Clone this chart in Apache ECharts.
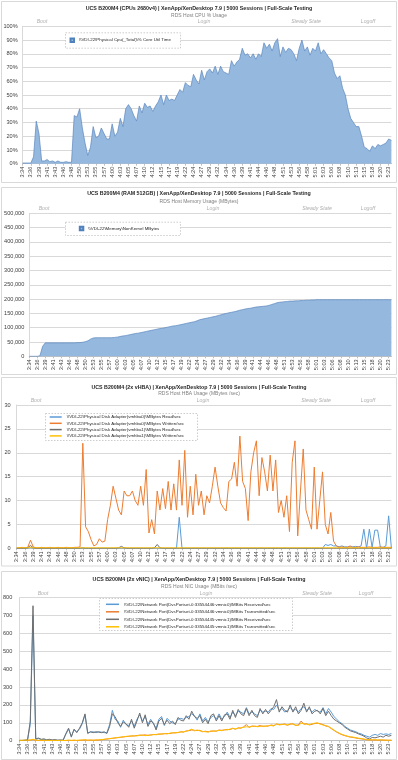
<!DOCTYPE html>
<html>
<head>
  <meta charset="utf-8">
  <script src="https://cdn.jsdelivr.net/npm/echarts@6/dist/echarts.min.js"></script>
  <title>UCS B200M4 RDS host metrics</title>
  <style>
    html, body { margin: 0; padding: 0; background: #fff; }
    #main { width: 398px; height: 760px; }
  </style>
</head>
<body>
<div id="main"></div>
<script>
  // tick labels on the time axis, one sample every third of a tick
  var tickLabels = ['3:34', '3:36', '3:39', '3:41', '3:43', '3:46', '3:48', '3:50', '3:53', '3:55',
    '3:57', '4:00', '4:03', '4:05', '4:07', '4:10', '4:12', '4:15', '4:17', '4:19',
    '4:22', '4:24', '4:27', '4:29', '4:32', '4:34', '4:36', '4:39', '4:41', '4:44',
    '4:46', '4:48', '4:51', '4:53', '4:56', '4:58', '5:01', '5:03', '5:06', '5:08',
    '5:10', '5:13', '5:15', '5:18', '5:20', '5:23'];
  var samplesPerTick = 3;
  var sampleCount = 137;
  var categories = [];
  tickLabels.forEach(function (t) {
    for (var k = 0; k < samplesPerTick; k++) categories.push(t);
  });
  categories = categories.slice(0, sampleCount);

  var phaseNames = ['Boot', 'Login', 'Steady State', 'Logoff'];

  // CPU % core util time
  var cpuUtil = [
    0.5, 0.5, 0.5, 0.5, 5, 31, 22, 2, 2, 3,
    1.5, 2, 1, 2, 1, 1, 1.5, 1, 1, 35,
    34, 40, 26, 15, 6, 12, 27, 19, 20, 26,
    22, 18, 18, 29, 20, 23, 33, 27, 40, 43,
    40, 35, 31, 42, 37, 44, 41, 42, 38, 42,
    45, 50, 43, 50, 46, 47, 46, 50, 54, 52,
    59, 57, 56, 65, 61, 58, 68, 61, 67, 69,
    66, 71, 65, 71, 67, 66, 65, 75, 71, 74,
    76, 84, 79, 80, 77, 80, 76, 80, 78, 88,
    84, 87, 82, 88, 91, 78, 85, 81, 84, 83,
    80, 75, 84, 90, 82, 85, 79, 84, 82, 88,
    80, 83, 80, 77, 75, 66, 62, 64, 55, 50,
    40, 33, 30, 27, 27, 20, 12, 11, 9, 13,
    11, 14, 13, 14, 15, 18, 17
  ];

  // NonKernel MBytes
  var memNonKernel = [
    0, 0, 0, 0, 2000, 35000, 47000, 47000, 47000, 47000,
    47000, 47000, 47000, 47000, 47000, 47000, 47000, 47000, 48000, 48000,
    49000, 51000, 54000, 60000, 64000, 65000, 65000, 65000, 65000, 65000,
    65000, 65000, 66000, 67000, 69000, 71000, 72000, 74000, 76000, 78000,
    80000, 81000, 83000, 85000, 87000, 89000, 91000, 93000, 95000, 97000,
    98000, 100000, 102000, 104000, 106000, 107000, 109000, 111000, 113000, 115000,
    117000, 119000, 121000, 124000, 128000, 130000, 132000, 134000, 136000, 138000,
    140000, 143000, 145000, 148000, 150000, 152000, 154000, 156000, 158000, 161000,
    163000, 165000, 167000, 168000, 170000, 172000, 173000, 174000, 175000, 176000,
    178000, 181000, 184000, 187000, 189000, 190000, 191000, 192000, 193000, 193000,
    194000, 194000, 195000, 195000, 196000, 196000, 197000, 197000, 198000, 198000,
    198000, 198000, 198000, 198000, 198000, 198000, 198000, 198000, 198000, 198000,
    198000, 198000, 198000, 198000, 198000, 198000, 198000, 198000, 198000, 198000,
    198000, 198000, 198000, 198000, 198000, 198000, 198000
  ];

  // HBA MBytes/sec
  var hba0Read = [
    0, 0, 0, 0, 0, 0.2, 0, 0, 0, 0,
    0, 0, 0, 0, 0, 0, 0, 0, 0, 0,
    0, 0, 0, 0, 0, 0, 0, 0, 0, 0,
    0, 0, 0, 0, 0, 0, 0, 0, 0, 0,
    0, 0, 0, 0, 0, 0, 0, 0, 0, 0,
    0, 0, 0, 0, 0, 0, 0, 0, 0, 6.5,
    0, 0, 0, 0, 0, 0, 0, 0, 0, 0,
    0, 0, 0, 0, 0, 0, 0, 0, 0, 0,
    0, 0, 0, 0, 0, 0, 0, 0, 0, 0,
    0, 0, 0, 0, 0, 0, 0, 0, 0, 0,
    0, 0, 0, 0, 0, 0, 0, 0, 0, 0,
    0, 0, 0.8, 0.6, 0.8, 0.5, 0.5, 0.3, 0.5, 0.3,
    0.3, 0.3, 0.3, 0.4, 0.3, 0.5, 4, 0, 4, 0.2,
    3.8, 3.8, 0.2, 0.2, 0.5, 6.8, 0
  ];
  var hba0Written = [
    0.1, 0.1, 0.2, 0.1, 0.2, 1.7, 0.3, 0.1, 0.1, 0.2,
    0.1, 0.1, 0.2, 0.1, 0.1, 0.2, 0.1, 0.1, 0.2, 0.1,
    0.1, 0.2, 0.2, 0.3, 22, 4.5, 3.5, 1.8, 0.5, 0.8,
    2, 1.3, 1.5, 6, 9, 13, 10.5, 8, 7, 12,
    11, 11, 12, 10, 9, 13, 9, 16.5, 3.2, 6,
    3, 12, 8, 12.5, 8.3, 14, 8, 13.5, 8, 18.5,
    9, 20.5, 6.5, 13, 7, 15.5, 9, 12, 7, 11,
    9.5, 13, 17, 13, 9.5, 8.5, 7.8, 14, 14.5, 18,
    13, 23.5, 14, 12.5, 5.8, 16, 20, 22.5, 11, 19,
    16, 12, 19.5, 12, 18.5, 7.5, 10, 6.5, 11, 3.5,
    18, 22.5, 2.6, 12, 20.8, 8, 6, 4, 17, 4,
    10, 16, 5, 3, 7.5, 1.5, 0.5, 0.2, 0.3, 0.2,
    0.2, 0.5, 0.2, 0.2, 0.3, 0.2, 0.2, 0.2, 0.3, 0.2,
    0.2, 0.2, 0.3, 0.2, 0.2, 0.2, 0.2
  ];
  var hba1Read = [
    0, 0, 0, 0, 0.1, 0.6, 0.1, 0, 0, 0,
    0, 0, 0, 0, 0, 0, 0, 0, 0, 0,
    0, 0, 0, 0, 0.1, 0, 0, 0, 0, 0,
    0, 0, 0, 0, 0, 0, 0, 0.1, 0.4, 0.1,
    0, 0, 0, 0, 0, 0, 0, 0, 0, 0,
    0.1, 0.8, 0.1, 0, 0, 0, 0, 0, 0, 0,
    0, 0, 0, 0, 0, 0, 0, 0, 0, 0,
    0, 0, 0, 0, 0, 0, 0, 0, 0, 0,
    0, 0, 0, 0, 0, 0, 0, 0, 0, 0,
    0, 0, 0, 0, 0, 0, 0, 0, 0, 0,
    0, 0, 0, 0, 0, 0, 0, 0, 0, 0,
    0, 0, 0, 0, 0, 0, 0, 0, 0, 0,
    0, 0, 0, 0, 0, 0, 0, 0, 0, 0,
    0, 0, 0, 0, 0, 0, 0
  ];
  var hba1Written = [
    0.1, 0.1, 0.1, 0.1, 0.1, 0.2, 0.1, 0.1, 0.1, 0.1,
    0.1, 0.1, 0.1, 0.1, 0.1, 0.1, 0.1, 0.1, 0.1, 0.1,
    0.1, 0.1, 0.1, 0.1, 0.1, 0.1, 0.1, 0.1, 0.1, 0.1,
    0.1, 0.1, 0.1, 0.1, 0.1, 0.1, 0.1, 0.1, 0.1, 0.1,
    0.1, 0.1, 0.1, 0.1, 0.1, 0.1, 0.1, 0.1, 0.1, 0.1,
    0.1, 0.1, 0.1, 0.1, 0.1, 0.1, 0.1, 0.1, 0.1, 0.1,
    0.1, 0.1, 0.1, 0.1, 0.1, 0.1, 0.1, 0.1, 0.1, 0.1,
    0.1, 0.1, 0.1, 0.1, 0.1, 0.1, 0.1, 0.1, 0.1, 0.1,
    0.1, 0.1, 0.1, 0.1, 0.1, 0.1, 0.1, 0.1, 0.1, 0.1,
    0.1, 0.1, 0.1, 0.1, 0.1, 0.1, 0.1, 0.1, 0.1, 0.1,
    0.1, 0.1, 0.1, 0.1, 0.1, 0.1, 0.1, 0.1, 0.1, 0.1,
    0.1, 0.1, 0.1, 0.1, 0.1, 0.1, 0.1, 0.1, 0.1, 0.1,
    0.1, 0.1, 0.1, 0.1, 0.1, 0.1, 0.1, 0.1, 0.1, 0.1,
    0.1, 0.1, 0.1, 0.1, 0.1, 0.1, 0.1
  ];

  // NIC MBits/sec
  var nic0Received = [
    1, 1, 2, 4, 90, 700, 8, 12, 6, 8,
    4, 6, 3, 5, 2, 3, 2, 35, 65, 25,
    60, 50, 65, 95, 145, 45, 48, 50, 45, 50,
    48, 45, 45, 90, 170, 120, 110, 75, 115, 90,
    85, 110, 80, 120, 145, 110, 135, 90, 120, 95,
    70, 120, 135, 85, 125, 110, 100, 95, 120, 125,
    120, 130, 135, 150, 140, 115, 150, 110, 130, 105,
    130, 140, 120, 150, 120, 135, 160, 130, 160, 140,
    165, 160, 150, 185, 150, 160, 150, 140, 170, 160,
    165, 160, 180, 175, 200, 170, 180, 160, 170, 185,
    170, 175, 160, 180, 190, 170, 180, 160, 175, 165,
    160, 185, 150, 180, 160, 135, 120, 105, 95, 80,
    70, 60, 55, 50, 42, 38, 30, 25, 20, 30,
    35, 30, 40, 35, 38, 35, 40
  ];
  var nic0Transmitted = [
    1, 1, 2, 2, 3, 6, 2, 1, 2, 1,
    1, 1, 1, 1, 1, 1, 1, 1, 2, 1,
    2, 1, 2, 3, 4, 2, 3, 2, 3, 4,
    5, 7, 9, 11, 13, 15, 17, 19, 21, 23,
    24, 27, 26, 29, 31, 30, 33, 29, 33, 34,
    35, 36, 38, 39, 40, 40, 43, 45, 45, 50,
    48, 55, 56, 60, 58, 57, 58, 50, 53, 50,
    52, 55, 53, 60, 58, 60, 63, 62, 70, 64,
    72, 70, 78, 90, 74, 82, 80, 80, 85, 80,
    82, 82, 88, 85, 92, 90, 90, 94, 86, 92,
    95, 85, 88, 110, 92, 95, 88, 92, 96, 98,
    95, 90, 82, 80, 68, 58, 48, 40, 33, 28,
    24, 20, 18, 15, 12, 10, 8, 5, 4, 4,
    4, 3, 4, 3, 3, 2, 2
  ];
  var nic1Received = [
    2, 2, 2, 5, 110, 755, 10, 15, 8, 10,
    5, 8, 4, 6, 3, 4, 3, 40, 70, 20,
    65, 45, 70, 100, 150, 40, 50, 45, 50, 48,
    45, 50, 40, 80, 150, 135, 100, 80, 105, 95,
    75, 120, 70, 110, 155, 100, 145, 80, 110, 100,
    60, 110, 125, 90, 115, 95, 110, 90, 130, 115,
    110, 140, 120, 165, 135, 125, 140, 100, 120, 95,
    140, 150, 110, 140, 110, 145, 150, 120, 170, 130,
    175, 150, 140, 180, 140, 170, 140, 130, 180, 150,
    175, 150, 170, 190, 230, 160, 190, 170, 160, 200,
    160, 190, 150, 170, 210, 160, 190, 150, 165, 170,
    150, 180, 140, 165, 140, 120, 110, 100, 90, 75,
    65, 55, 50, 45, 38, 32, 25, 15, 10, 18,
    16, 20, 25, 20, 30, 25, 30
  ];
  var nic1Transmitted = [
    2, 2, 3, 3, 4, 8, 3, 2, 3, 2,
    2, 2, 1, 2, 1, 2, 1, 2, 3, 2,
    3, 2, 3, 4, 5, 3, 4, 3, 4, 5,
    6, 8, 10, 12, 14, 16, 18, 20, 22, 24,
    26, 25, 28, 27, 30, 32, 28, 31, 30, 35,
    33, 38, 36, 40, 38, 42, 45, 43, 47, 48,
    50, 52, 58, 65, 55, 60, 55, 52, 50, 48,
    55, 52, 55, 58, 56, 62, 60, 65, 68, 66,
    70, 72, 75, 78, 76, 80, 82, 78, 80, 82,
    80, 84, 85, 82, 95, 88, 92, 90, 88, 95,
    92, 88, 85, 98, 95, 92, 90, 95, 98, 100,
    92, 88, 85, 78, 70, 60, 50, 42, 35, 30,
    25, 22, 20, 17, 14, 12, 9, 6, 5, 5,
    5, 4, 5, 4, 3, 3, 3
  ];

  var cpuName = '\\\\VDI-22\\Physical Cpu(_Total)\\% Core Util Time';
  var memName = '\\\\VDI-22\\Memory\\NonKernel MBytes';
  var hbaNames = [
    '\\\\VDI-22\\Physical Disk Adapter(vmhba0)\\MBytes Read/sec',
    '\\\\VDI-22\\Physical Disk Adapter(vmhba0)\\MBytes Written/sec',
    '\\\\VDI-22\\Physical Disk Adapter(vmhba1)\\MBytes Read/sec',
    '\\\\VDI-22\\Physical Disk Adapter(vmhba1)\\MBytes Written/sec'
  ];
  var nicNames = [
    '\\\\VDI-22\\Network Port(DvsPortset-0:33554446:vmnic0)\\MBits Received/sec',
    '\\\\VDI-22\\Network Port(DvsPortset-0:33554446:vmnic0)\\MBits Transmitted/sec',
    '\\\\VDI-22\\Network Port(DvsPortset-0:33554445:vmnic1)\\MBits Received/sec',
    '\\\\VDI-22\\Network Port(DvsPortset-0:33554445:vmnic1)\\MBits Transmitted/sec'
  ];
  var lineColors = ['#5b9bd5', '#ed7d31', '#6f6f6f', '#ffc000'];

  var FONT = '"Liberation Sans", Arial, sans-serif';

  // layout of the four stacked panels
  var panels = [
    { title: 'UCS B200M4 (CPUs 2680v4) | XenApp/XenDesktop 7.9 | 5000 Sessions | Full-Scale Testing',
      sub: 'RDS Host CPU % Usage', box: [1, 1, 395, 181], titleY: 8.5, subY: 15.3, phaseY: 21.8,
      phaseX: [42, 204, 306, 368], grid: { left: 22.7, top: 26.3, height: 137.4 },
      legendBox: [65, 32.3, 115, 15.4] },
    { title: 'UCS B200M4 (RAM 512GB) | XenApp/XenDesktop 7.9 | 5000 Sessions | Full-Scale Testing',
      sub: 'RDS Host Memory Usage (MBytes)', box: [1, 187, 395, 187], titleY: 194, subY: 201.5, phaseY: 208.8,
      phaseX: [44, 213, 317, 368], grid: { left: 29.3, top: 213.3, height: 143 },
      legendBox: [65, 221.7, 115, 13.3] },
    { title: 'UCS B200M4 (2x vHBA) | XenApp/XenDesktop 7.9 | 5000 Sessions | Full-Scale Testing',
      sub: 'RDS Host HBA Usage (MBytes /sec)', box: [1, 377, 395, 188.5], titleY: 387.5, subY: 394, phaseY: 400.5,
      phaseX: [36, 203, 316, 368], grid: { left: 16.7, top: 405, height: 143.3 },
      legendBox: [45, 413, 152, 27] },
    { title: 'UCS B200M4 (2x vNIC) | XenApp/XenDesktop 7.9 | 5000 Sessions | Full-Scale Testing',
      sub: 'RDS Host NIC Usage (MBits /sec)', box: [1, 571, 395, 188], titleY: 580, subY: 586.5, phaseY: 593.8,
      phaseX: [43, 206, 317, 366], grid: { left: 19.3, top: 597.7, height: 143 },
      legendBox: [99, 598, 193, 32] }
  ];

  var myChart = echarts.init(document.getElementById('main'));

  function xAxisFor(i) {
    return {
      gridIndex: i,
      type: 'category',
      data: categories,
      boundaryGap: false,
      axisLine: { lineStyle: { color: '#bfbfbf', width: 1 } },
      axisTick: { interval: 2, length: 2, lineStyle: { color: '#bfbfbf' } },
      axisLabel: { interval: 2, rotate: 90, fontSize: 5.6, color: '#404040', margin: 3, fontFamily: FONT }
    };
  }

  function yAxisFor(i, max, step, fmt, margin) {
    return {
      gridIndex: i,
      type: 'value',
      min: 0,
      max: max,
      interval: step,
      axisLine: { show: true, lineStyle: { color: '#d9d9d9' } },
      axisTick: { show: false },
      splitLine: { lineStyle: { color: '#d9d9d9', width: 1 } },
      axisLabel: { formatter: fmt, fontSize: 5.6, color: '#404040', margin: margin, fontFamily: FONT }
    };
  }

  function thousands(v) {
    return String(v).replace(/\B(?=(\d{3})+(?!\d))/g, ',');
  }

  function lineSeries(name, data, idx, color) {
    return {
      name: name, type: 'line', xAxisIndex: idx, yAxisIndex: idx, data: data,
      symbol: 'none', showSymbol: false,
      lineStyle: { color: color, width: 1 },
      itemStyle: { color: color }
    };
  }

  function areaSeries(name, data, idx) {
    return {
      name: name, type: 'line', xAxisIndex: idx, yAxisIndex: idx, data: data,
      symbol: 'none', showSymbol: false,
      lineStyle: { color: '#5a86bf', width: 0.7 },
      itemStyle: { color: '#95b8de', borderColor: '#4f81bd', borderWidth: 0.5 },
      areaStyle: { color: '#95b8de', opacity: 1 }
    };
  }

  var graphics = [];
  panels.forEach(function (p) {
    graphics.push({
      type: 'rect', z: 0, silent: true,
      shape: { x: p.box[0] + 0.5, y: p.box[1] + 0.5, width: p.box[2], height: p.box[3] },
      style: { fill: 'none', stroke: '#d9d9d9', lineWidth: 1 }
    });
    graphics.push({
      type: 'text', z: 5, silent: true, x: 199, y: p.titleY,
      style: { text: p.title, font: 'bold 5.3px ' + FONT, fill: '#262626',
        align: 'center', verticalAlign: 'middle', textAlign: 'center', textVerticalAlign: 'middle' }
    });
    graphics.push({
      type: 'text', z: 5, silent: true, x: 199, y: p.subY,
      style: { text: p.sub, font: '5px ' + FONT, fill: '#7f7f7f',
        align: 'center', verticalAlign: 'middle', textAlign: 'center', textVerticalAlign: 'middle' }
    });
    phaseNames.forEach(function (ph, k) {
      graphics.push({
        type: 'text', z: 5, silent: true, x: p.phaseX[k], y: p.phaseY,
        style: { text: ph, font: 'italic 5.2px ' + FONT, fill: '#b0b0b0',
          align: 'center', verticalAlign: 'middle', textAlign: 'center', textVerticalAlign: 'middle' }
      });
    });
    graphics.push({
      type: 'rect', z: 50, silent: true,
      shape: { x: p.legendBox[0] + 0.5, y: p.legendBox[1] + 0.5, width: p.legendBox[2], height: p.legendBox[3] },
      style: { fill: '#ffffff', stroke: '#bfbfbf', lineWidth: 0.8, lineDash: [1.5, 1.5] }
    });
  });

  var legendText = { fontSize: 4.4, lineHeight: 5, color: '#262626', fontFamily: FONT };

  var option = {
    animation: false,
    backgroundColor: '#ffffff',
    grid: panels.map(function (p) {
      return { left: p.grid.left, right: 6.6, top: p.grid.top, height: p.grid.height };
    }),
    xAxis: [xAxisFor(0), xAxisFor(1), xAxisFor(2), xAxisFor(3)],
    yAxis: [
      yAxisFor(0, 100, 10, '{value}%', 5),
      yAxisFor(1, 500000, 50000, thousands, 5),
      yAxisFor(2, 30, 5, '{value}', 6),
      yAxisFor(3, 800, 100, '{value}', 7)
    ],
    legend: [
      { data: [cpuName], left: 69.5, top: 37.5, orient: 'vertical', icon: 'rect', itemWidth: 3.5, itemHeight: 3.5,
        padding: 0, selectedMode: false, z: 60, textStyle: legendText },
      { data: [memName], left: 78.8, top: 225.8, orient: 'vertical', icon: 'rect', itemWidth: 3.5, itemHeight: 3.5,
        padding: 0, selectedMode: false, z: 60, textStyle: legendText },
      { data: hbaNames, left: 49.7, top: 414.5, orient: 'vertical', icon: 'rect', itemWidth: 12, itemHeight: 1.5,
        itemGap: 1.3, padding: 0, selectedMode: false, z: 60, textStyle: legendText },
      { data: nicNames, left: 106, top: 601.8, orient: 'vertical', icon: 'rect', itemWidth: 13, itemHeight: 1.5,
        itemGap: 2.5, padding: 0, selectedMode: false, z: 60, textStyle: legendText }
    ],
    graphic: graphics,
    series: [
      areaSeries(cpuName, cpuUtil, 0),
      areaSeries(memName, memNonKernel, 1),
      lineSeries(hbaNames[0], hba0Read, 2, lineColors[0]),
      lineSeries(hbaNames[1], hba0Written, 2, lineColors[1]),
      lineSeries(hbaNames[2], hba1Read, 2, lineColors[2]),
      lineSeries(hbaNames[3], hba1Written, 2, lineColors[3]),
      lineSeries(nicNames[0], nic0Received, 3, lineColors[0]),
      lineSeries(nicNames[1], nic0Transmitted, 3, lineColors[1]),
      lineSeries(nicNames[2], nic1Received, 3, lineColors[2]),
      lineSeries(nicNames[3], nic1Transmitted, 3, lineColors[3])
    ]
  };

  myChart.setOption(option);

  window.addEventListener('resize', function () {
    myChart.resize();
  });
</script>
</body>
</html>
